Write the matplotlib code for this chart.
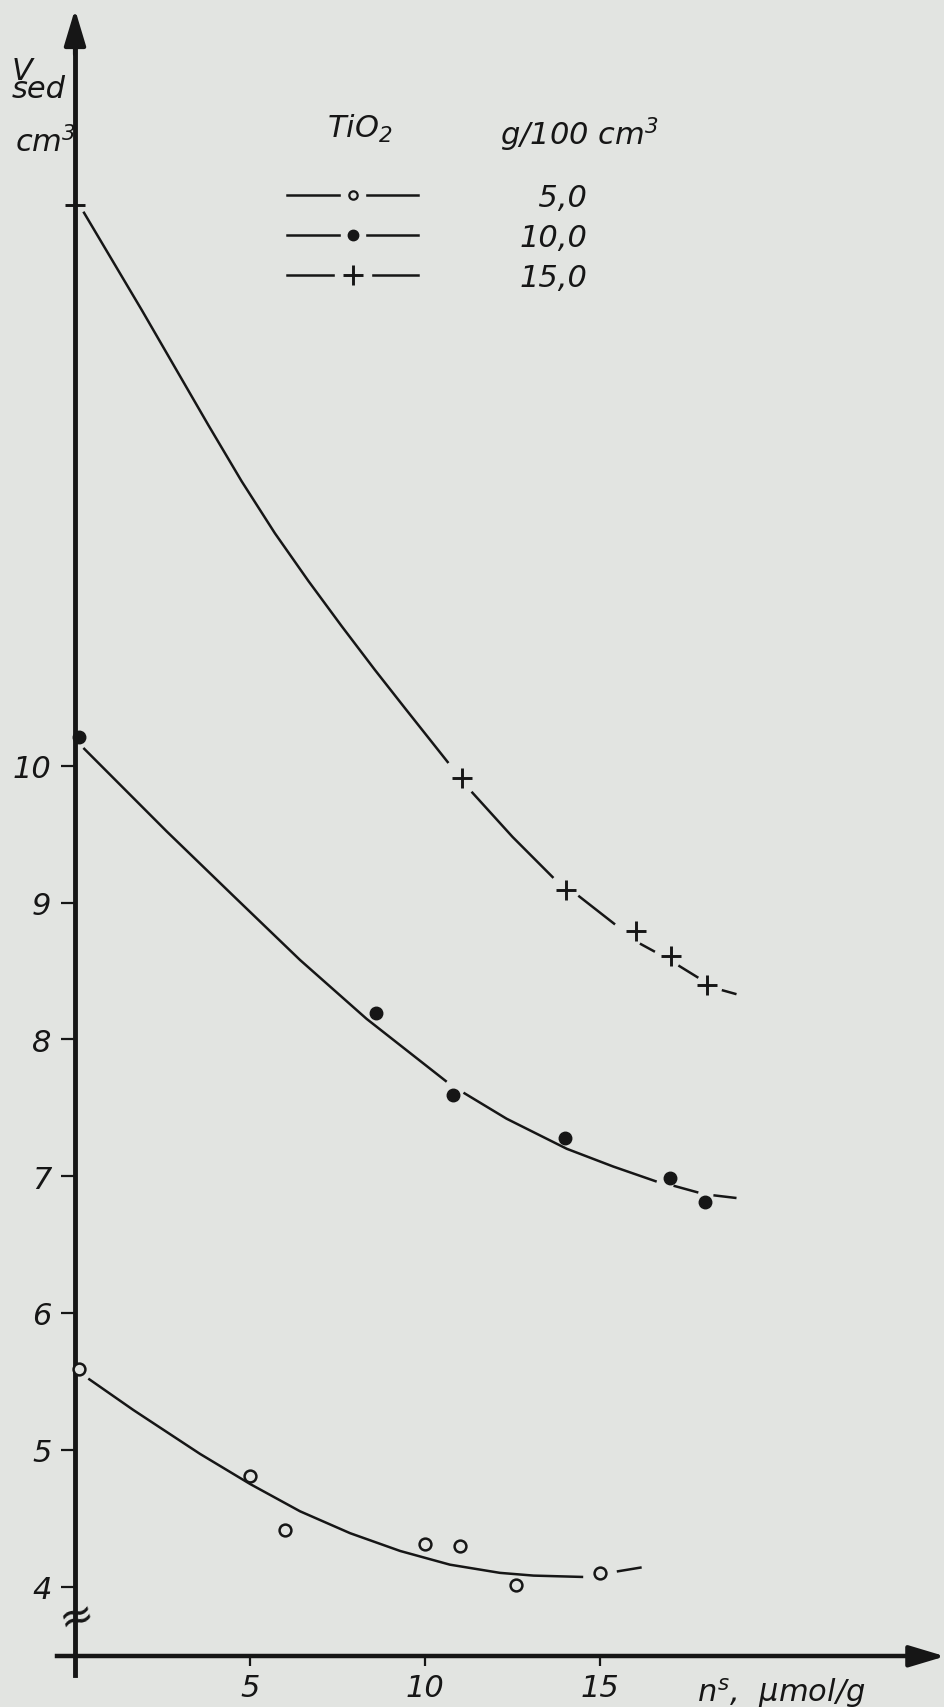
import numpy as np
import matplotlib
matplotlib.use("Agg")
import matplotlib.pyplot as plt
from matplotlib.lines import Line2D
from matplotlib.legend_handler import HandlerTuple

# ---------------- data ----------------
nan = np.nan
# measured points, TiO2 5,0 g/100 cm3 (open circles)
x_5 = [0.1, 5.0, 6.0, 10.0, 11.0, 12.6, 15.0]
v_5 = [5.59, 4.81, 4.41, 4.31, 4.30, 4.01, 4.10]
# 10,0 g/100 cm3 (filled dots)
x_10 = [0.1, 8.6, 10.8, 14.0, 17.0, 18.0]
v_10 = [10.21, 8.19, 7.59, 7.28, 6.99, 6.81]
# 15,0 g/100 cm3 (crosses)
x_15 = [0.0, 11.05, 14.03, 16.03, 17.03, 18.05]
v_15 = [14.10, 9.91, 9.09, 8.79, 8.61, 8.40]

# hand-drawn fitted curves (gaps where the draftsman broke the line at markers)
fit5_x = [0.38, 1.67, 2.62, 3.57, 5.0, 6.43, 7.86, 9.29, 10.71, 12.14, 13.1, 14.52, nan, 15.48, 16.19]
fit5_v = [5.52, 5.29, 5.13, 4.97, 4.75, 4.55, 4.39, 4.26, 4.16, 4.10, 4.08, 4.07, nan, 4.11, 4.14]

fit10_x = [0.24, 2.62, 4.52, 6.43, 8.33, 10.62, nan, 11.1, 12.33, 14.05, 15.38, 16.62, nan,
           17.1, 17.81, nan, 18.24, 18.9]
fit10_v = [10.13, 9.52, 9.05, 8.58, 8.15, 7.69, nan, 7.61, 7.42, 7.20, 7.07, 6.96, nan,
           6.93, 6.88, nan, 6.86, 6.84]

fit15_x = [0.24, 1.91, 2.86, 3.81, 4.76, 5.71, 6.67, 7.62, 8.57, 9.43, 10.67, nan,
           11.33, 12.5, 13.67, nan, 14.38, 15.43, nan,
           16.14, 16.57, nan, 17.24, 17.81, nan, 18.48, 18.9]
fit15_v = [14.05, 13.33, 12.91, 12.49, 12.08, 11.70, 11.35, 11.02, 10.70, 10.42, 10.02, nan,
           9.81, 9.48, 9.18, nan, 9.05, 8.84, nan,
           8.70, 8.64, nan, 8.54, 8.45, nan, 8.36, 8.33]

series_labels = ["\u20075,0", "10,0", "15,0"]
y_ticks = [4, 5, 6, 7, 8, 9, 10]
x_ticks = [5, 10, 15]

# ---------------- style ----------------
bg = "#e2e4e1"
ink = "#161616"
FS = 22
LW = 1.8
plt.rcParams["font.family"] = ["DejaVu Sans"]
plt.rcParams["font.style"] = "italic"
plt.rcParams["mathtext.fontset"] = "dejavusans"
plt.rcParams["mathtext.default"] = "it"

W, H = 945, 1708
fig = plt.figure(figsize=(W / 100, H / 100), dpi=100)
fig.patch.set_facecolor(bg)

# axes placed so that data maps onto the reference geometry
x0, x1 = -2.0, 24.857
y0, y1 = 3.3, 15.55
ax = fig.add_axes([5 / W, (H - 1683.3) / H, 940 / W, (1683.3 - 7.5) / H])
ax.set_xlim(x0, x1)
ax.set_ylim(y0, y1)
ax.patch.set_visible(False)

# curves
for fx, fv in [(fit5_x, fit5_v), (fit10_x, fit10_v), (fit15_x, fit15_v)]:
    ax.plot(fx, fv, color=ink, lw=LW, solid_capstyle="butt", solid_joinstyle="round", zorder=3)

# markers
ax.plot(x_5, v_5, ls="none", marker="o", ms=8.5, mfc=bg, mec=ink, mew=1.8, zorder=4, clip_on=False)
ax.plot(x_10, v_10, ls="none", marker="o", ms=9, mfc=ink, mec=ink, zorder=4, clip_on=False)
ax.plot(x_15, v_15, ls="none", marker="+", ms=15, mec=ink, mew=2.1, zorder=4, clip_on=False)

# axes lines
for s in ["top", "right"]:
    ax.spines[s].set_visible(False)
ax.spines["left"].set_position(("data", 0))
ax.spines["left"].set_bounds(3.35, 15.3)
ax.spines["left"].set_linewidth(3.5)
ax.spines["left"].set_color(ink)
ax.spines["bottom"].set_position(("data", 3.49))
ax.spines["bottom"].set_bounds(-0.52, 24.2)
ax.spines["bottom"].set_linewidth(3.2)
ax.spines["bottom"].set_color(ink)

ax.annotate("", xy=(0, 15.53), xytext=(0, 15.2), annotation_clip=False,
            arrowprops=dict(arrowstyle="-|>,head_length=1.1,head_width=0.33", mutation_scale=20,
                            lw=3.0, color=ink, shrinkA=0, shrinkB=0))
ax.annotate("", xy=(24.86, 3.49), xytext=(24.0, 3.49), annotation_clip=False,
            arrowprops=dict(arrowstyle="-|>,head_length=1.1,head_width=0.33", mutation_scale=20,
                            lw=3.0, color=ink, shrinkA=0, shrinkB=0))

# ticks
ax.set_yticks(y_ticks)
ax.set_yticklabels([str(t) for t in y_ticks])
ax.set_xticks(x_ticks)
ax.set_xticklabels([str(t) for t in x_ticks])
ax.tick_params(axis="y", direction="out", length=10, width=1.6, pad=7, labelsize=FS, colors=ink)
ax.tick_params(axis="x", direction="out", length=7, width=1.6, pad=5, labelsize=FS, colors=ink)

# axis break symbol
ax.text(0.05, 3.78, "\u2248", fontsize=30, ha="center", va="center", rotation=15,
        fontstyle="normal", color=ink, zorder=5)

# axis titles
fig.text(12 / W, 1 - 98 / H, "V\nsed", fontsize=FS, color=ink, va="baseline", ha="left",
         linespacing=0.5)
fig.text(15 / W, 1 - 152 / H, r"cm$^{3}$", fontsize=FS, color=ink, va="baseline", ha="left")
fig.text(697 / W, 1 - 1702 / H, r"$n^{s}$,  $\mu$mol/g", fontsize=FS, color=ink,
         va="baseline", ha="left")

# legend header
fig.text(327 / W, 1 - 138 / H, r"$TiO_2$", fontsize=FS, color=ink, va="baseline", ha="left")
fig.text(500 / W, 1 - 145 / H, r"g/100 cm$^3$", fontsize=FS, color=ink, va="baseline", ha="left")

# legend
def handle(marker, ms, mfc, mew, mask):
    ln = Line2D([], [], color=ink, lw=LW)
    gap = Line2D([], [], ls="none", marker="s", ms=mask, mfc=bg, mec=bg)
    mk = Line2D([], [], ls="none", marker=marker, ms=ms, mfc=mfc, mec=ink, mew=mew)
    return (ln, gap, mk)

handles = [handle("o", 6, bg, 1.6, 17),
           handle("o", 7.5, ink, 1.0, 17),
           handle("+", 15, ink, 2.1, 26)]
leg = ax.legend(handles, series_labels,
                handler_map={tuple: HandlerTuple(ndivide=1, pad=0)},
                loc="upper left", bbox_to_anchor=(287 / W, 1 - 184 / H),
                bbox_transform=fig.transFigure, frameon=False, borderpad=0, borderaxespad=0,
                handlelength=4.3, handletextpad=3.3, labelspacing=0.36, fontsize=FS)
for t in leg.get_texts():
    t.set_color(ink)

fig.savefig("out.png", dpi=100, facecolor=bg)
